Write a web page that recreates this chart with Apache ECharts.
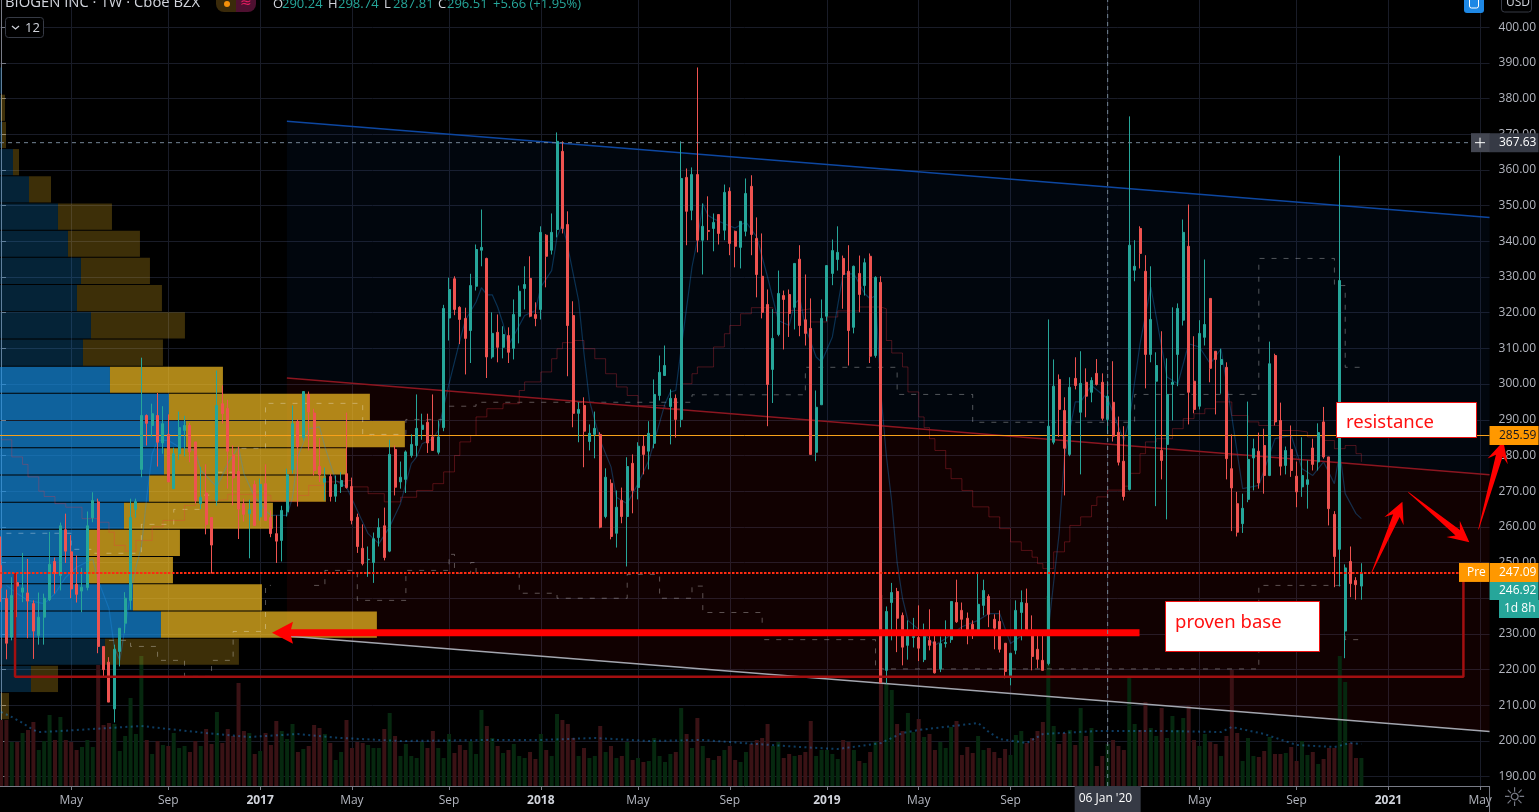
<!DOCTYPE html>
<html>
<head>
<meta charset="utf-8">
<title>BIOGEN INC 1W</title>
<style>
  html, body { margin: 0; padding: 0; background: #000; overflow: hidden; }
  #main { width: 1539px; height: 812px; }
</style>
<script src="https://cdn.jsdelivr.net/npm/echarts@6/dist/echarts.min.js"></script>
</head>
<body>
<div id="main"></div>
<script>
// weekly bars, week 0 is the week of 1 Feb 2016, week 205 is 6 Jan 2020
const opens = [
  249.2,239.9,229.1,244.4,241.7,241.5,238.5,229.6,234.7,239.6,
  250.3,246.4,259.2,253,243.9,242,243,262.5,267,226.5,
  222.1,209,225.1,233,239.4,264.9,276.1,291.2,288.4,291.2,
  283.5,285.9,270.7,280.5,287,288.4,283.8,266.5,269.5,262.6,
  267.4,294.5,293.2,280.2,275.5,266.5,263.7,271.9,262.8,272.1,
  262.6,258.1,256.2,264.2,276,289.5,285,297.1,291.9,276.9,
  272.5,274.1,268.6,271.3,274.9,271.3,262.7,254,250.8,250,
  257,260.3,253.2,281.7,272.6,273.3,280,282.8,287.3,289.3,
  285.2,280.9,287.8,318.5,329.5,321.5,318.4,315,327.4,337.5,
  335.2,307.6,314.5,310.3,313.6,310,319,326.8,329.6,319.5,
  320.9,341.7,337.5,343.3,365.2,344.7,319.2,291.8,294,283.9,
  285.9,285.9,262.9,272.2,258.2,267.4,262.9,277.8,271,282.6,
  281.2,283.4,296.8,302.4,293.7,296,290.1,357.9,348.7,358.7,
  340.3,343,343.6,347.5,343.1,354,342.8,338.3,342.8,355.4,
  340.8,330.2,322.3,304.1,313.9,324.8,325.1,321.5,335,318,
  315.6,280.9,294.2,319,331,334.9,335.2,331.6,315.9,331,
  327.6,335.8,308,328.5,219.8,238.8,241.9,235.2,226.8,229,
  229,222.8,228.2,227.8,220.2,227.3,228.4,238.8,236.6,234.4,
  232.7,231,238,240.5,234.1,233.5,227.4,218.1,225.4,236,
  238.6,231,225.7,222.6,221.7,283.7,301.3,292.6,280.3,301.6,
  292.1,300.5,297.7,303,300.5,290.1,294.9,286.5,278.4,270.5,
  331.9,343.6,331.6,308.3,300.8,281.4,283.1,299.9,308.3,317.9,
  338.6,300.8,293.8,313.1,324,309.2,305.5,304.7,276.3,266.5,
  260.9,267.7,279.3,281.2,282.8,274.4,308,289.8,277.2,281.7,
  274.2,271.2,271.9,282.1,278.2,289.4,279.6,263.5,253.7,230.8,
  250.3,245,243.4
]
const closes = [
  242.9,227.4,240.8,243.4,242.9,239.2,230.8,234.7,240,249.5,
  246.9,260.3,253.2,242.6,241.1,243.1,260.3,267.4,226.5,220,
  210.9,225.7,231.6,240,262.6,267.1,291.2,289,291.7,283.7,
  288.9,272.6,280.5,287.8,288.4,281,267.4,268.3,260.7,254.9,
  294,291.7,281.2,273.7,265,263.5,264.8,260.4,271.9,261.8,
  258.1,256,264.6,274.6,288.9,282.4,297.9,292.2,275.8,274.6,
  273.6,268.5,271.9,273,271,261.8,254.5,249.7,250.9,256.7,
  259.8,251.4,280.3,271.1,273.9,281,283.1,287.6,288.5,283.5,
  281.4,285.2,321.2,326.5,320.9,318.1,312.8,327.6,337.7,338.3,
  307.6,314.2,310.3,313.9,308.9,319.5,326,327.9,319,318.4,
  342.5,335.8,342.5,368,343.6,316.4,291.8,292.9,286.8,286.2,
  287.6,259.9,273.9,257.3,265.5,262.9,276.9,270.2,282.6,280.3,
  286.2,297.1,303.3,305.2,296,290.1,357.6,348.4,358.7,340.3,
  344.2,342.8,345.3,342.2,353.7,339.4,338.6,345.6,353.4,341.9,
  330.7,320.1,299.9,312.8,325.4,323.7,319.8,333.8,316.4,314.2,
  280.3,293.5,318.4,333.2,337.4,336.9,330.7,315,333,325.1,
  334,307.8,329.9,216.3,236.3,241.6,234.4,226.3,230,229.3,
  226,229.3,226.8,219.1,227.3,227.6,239.1,233.4,234.1,230.3,
  231,238.3,242.2,235.5,231.6,225.7,219.5,224.6,236.6,238.8,
  229.9,223.7,222.9,219.8,288.2,299.4,292.9,282,299.1,299.6,
  300.2,296.6,301,299.9,290.4,296.6,285.4,278.1,268.5,338.9,
  333,336.6,308.3,318.1,305.2,278.6,297.1,300.5,321.2,342.5,
  297.7,292.9,314.2,316.7,304.4,306.9,306.9,279.1,270.9,258.5,
  265.2,278.9,281.9,272.3,274.4,305.7,289.4,277,281.4,275.8,
  269.8,274.4,273.2,277.5,286.4,279.6,265.1,251.7,329,248.5,
  244.1,243.8,246.9
]
const highs = [
  257.3,242.4,245.9,247.3,252.7,251,239.4,241.6,241.3,258.6,
  251.4,261.2,263.7,257.7,252,248.5,264.3,269.7,267.9,226.5,
  223.5,227,231.6,241.7,267.9,267.9,307.4,291.5,294.5,297.5,
  293.8,291.5,282.2,292.3,291.1,289.1,283.8,276.8,277.5,262.6,
  303.8,299.6,295.6,282.8,282.5,267.9,267.6,273,273.5,277.5,
  264.6,263.2,265.9,276.3,294,290.1,297.9,297.9,293.1,284.9,
  276.6,274.9,274.4,275.3,292,273.8,263.7,260.7,254.5,258.4,
  262.4,265.4,284.4,282.8,278.3,281.4,285.9,297.1,291.7,291.7,
  297.1,289.8,322.2,329.8,330.2,321.8,321.4,330.9,339.1,348.9,
  335.4,320.1,319.5,316.2,315.9,323.7,327.6,333,335.8,322.9,
  344.2,342,347.8,370.5,368,348.4,323.2,294.9,296.3,288.7,
  292.3,286.5,276.4,273.3,270.2,271,279.5,280.3,283.7,285.6,
  289.6,301.3,308,310.8,298.5,297.1,368,360.4,360.7,388.7,
  350.6,352.6,347.8,347.5,355.9,355.1,343,345.6,357.6,358.5,
  346.7,342.2,326.5,321,331.8,326.2,326.5,333.8,338.9,330.7,
  324,298.2,323.7,333.2,340.5,344.2,336,338.9,333.2,336,
  335.2,336.6,330.2,330.2,237.7,244.3,242.9,236,233.8,234.5,
  238,232.9,236.9,229.9,229.3,233.8,239.1,245.2,238.8,236,
  233.8,246.9,245.2,241.1,235.5,236.6,227.4,224.6,239.4,242.2,
  242.7,235.2,229.9,230,318.1,306.9,302.7,296.3,301.9,307.5,
  309.2,304.4,301.9,307,303,300.8,306.4,290.9,288.2,375,
  340.3,344.2,336.1,333,308.9,314.8,307.2,321.5,322.6,346.1,
  350.3,313.4,317.9,334.9,324,309.2,309.9,306.1,285.9,269.8,
  269.3,295.1,284.7,286.4,287.5,311.9,308.5,294.8,282.5,288.4,
  278.3,285.1,278.6,284.7,289,293.6,279.6,264.4,364,249.5,
  254.5,245.9,249.8
]
const lows = [
  239,222.9,228.2,234.7,238.9,228.8,223,227,227,239.2,
  241.3,242.2,249.9,240,238.8,236.1,242.2,261.3,224.6,217.7,
  210.9,205.2,220.9,230.2,236.8,262.6,273.9,282.8,285.3,276.9,
  280.5,272.6,270.7,278.8,279.7,278.1,266.5,265,257.9,246.9,
  266,288.9,270.7,266,256.6,261.5,251.2,260.4,261.8,261.8,
  257.1,249.9,250.3,262.9,274.9,265.7,284.2,281.4,274.4,272.6,
  267.4,267.1,267,269.5,270.7,260.7,252.7,249.2,246,244.3,
  254.5,250.6,252.9,268.8,270.7,269.5,279.4,279.7,284.4,280.7,
  281.4,280.3,286.8,312.2,319.3,311.2,302.7,305.9,326.2,333,
  301.7,307.1,306.1,307.2,305.9,306.9,311.4,320.9,318.7,316.2,
  318.1,327.1,336.3,341.1,342.2,302.2,287.9,283.7,276.7,281.4,
  279.2,259.6,262.4,256.5,254.2,261,248.9,263.8,267.7,274.7,
  276.1,282,295.4,302.4,283.1,285,287.9,338.9,345.9,336.9,
  330.7,340.3,337.2,339.1,340.3,336.1,332.7,332.4,341.4,336.1,
  324.3,318.4,288.2,294.7,313.4,309.7,313.2,315.3,313.4,310.8,
  280.3,278.4,294.2,317.6,327.7,331.8,321.1,305.2,314.2,320.1,
  324.8,305.9,307.4,216.3,216.1,228.2,224.9,221.2,222.8,226.2,
  222.4,222.1,225.4,218.9,219.3,226.2,227.5,233.1,230.5,227.1,
  228.6,231,235.2,231.9,225.7,224.8,217.6,215.6,224.3,228.2,
  229.9,219.8,220.4,219.8,221.2,283.1,285.2,268.8,279.8,298.5,
  274.7,290.7,294.9,299.6,289.8,286,283.9,277.2,267.4,270.2,
  328.8,332.4,298.8,306.1,265.8,273.3,262.1,289.8,299.4,316.4,
  288.7,291.8,292.9,310.8,300.5,291.5,297.3,273.3,258.8,257.3,
  258.3,266.9,270.2,270.7,269.3,274.2,288.4,274.4,274.7,274,
  265.5,268.4,265.1,275.8,275.8,279.1,260.4,243.1,243.3,223.2,
  240.3,239.6,239.6
]
const volumes = [
  66,66,44,44,53,56,64,36,45,71,46,69,46,44,36,39,46,39,121,61,
  63,62,35,50,88,52,130,46,32,45,41,40,53,38,40,34,45,40,57,42,
  74,43,57,50,103,55,53,32,35,53,41,65,55,47,62,34,37,40,61,58,
  52,43,26,34,66,38,44,43,41,38,38,57,73,50,30,42,30,28,44,38,
  55,38,28,52,33,41,36,45,32,76,60,48,40,33,36,42,30,28,34,27,
  52,36,30,72,66,62,48,30,38,28,30,60,34,40,28,30,44,26,28,24,
  25,48,30,24,32,34,78,52,38,68,40,28,26,30,36,40,26,24,34,42,
  46,48,62,40,44,28,32,30,31,34,65,30,36,36,32,27,46,44,36,25,
  23,34,44,191,103,96,62,55,73,54,67,49,52,36,44,38,59,65,31,39,
  33,50,36,38,34,28,37,31,51,55,43,48,55,64,190,60,42,53,56,41,
  78,50,58,20,30,42,46,40,36,108,62,56,84,58,50,78,48,70,56,68,
  80,46,40,52,44,42,30,50,116,53,25,48,30,29,35,49,32,32,33,39,
  25,45,31,34,22,27,38,38,130,104,43,28,28
]
const volumeAxisMax = 786

// [week, price] knots
const fastAverage = [
  [1,243.6],[3,241.3],[5,239.4],[8,238.5],[10,241.3],[12,245.9],[14,248.7],[17,251],[18,245],[20,237.1],
  [21,226.3],[22,222.6],[24,241.3],[25,248.7],[26,254.3],[27,268.3],[28,280.5],[29,284.2],[31,284.2],[33,282.4],
  [36,281.4],[37,275.8],[40,271.2],[42,277.7],[44,282.4],[45,274.9],[47,268.3],[49,264.6],[50,263.2],[53,263.2],
  [54,268.3],[55,279.6],[57,287.5],[59,288],[60,282.4],[62,273],[64,271.2],[66,264.6],[68,258.1],[70,255.3],
  [72,260],[74,266.5],[76,277.7],[77,279.6],[78,283.3],[80,284.7],[81,287],[82,293.6],[83,300.1],[85,312.2],
  [86,317.8],[88,323],[89,327],[90,325],[91,325],[92,321.6],[93,316.9],[94,310.8],[95,313.6],[97,319.2],
  [99,320.6],[100,327.2],[102,331.8],[103,341.2],[104,344.9],[105,338.4],[107,323.4],[108,308.5],[109,295.4],[111,284.2],
  [113,276.8],[114,268.3],[116,266.5],[118,272.1],[120,278.6],[123,294.5],[124,297.8],[125,298.2],[126,310],[128,332.8],
  [129,340.3],[130,350.5],[131,347.2],[132,346.3],[134,344.9],[136,343.7],[138,345.4],[140,341.2],[142,330],[144,317.8],
  [146,316.4],[147,322.5],[148,323.9],[149,316],[151,307.6],[152,306.2],[154,313.2],[156,330.9],[158,330.9],[160,325.3],
  [161,323.9],[162,324.8],[163,297.3],[164,280],[165,267],[166,250],[167,240],[168,233.8],[171,230],[173,226.8],
  [175,228.7],[178,232],[181,233.8],[183,235.7],[185,235.7],[187,227.3],[190,230.5],[194,231],[196,258],[197,279.6],
  [199,295],[200,295],[202,299.6],[205,295.9],[208,284.2],[209,289.8],[211,311.3],[213,327.2],[216,302],[218,300.1],
  [220,311.3],[222,310.4],[224,305.7],[226,309.9],[228,290.8],[230,270.7],[233,271.6],[236,284.7],[239,285.6],[241,276.3],
  [243,274.4],[245,278.2],[247,272.1],[248,281],[249,269.3],[251,263.7],[252,262.3]
]
const slowAverage = [
  [0,284.4],[2,279.6],[4,277.5],[5,274],[7,270],[8,268.5],[10,266.5],[12,265.5],[15,262.3],[18,261.3],
  [20,258.5],[21,254.8],[23,253.2],[25,256.2],[28,260],[30,261.8],[34,266],[36,267.4],[39,267.6],[42,269.1],
  [46,268.8],[50,267.2],[53,267],[55,268.8],[57,271.6],[60,272.6],[62,273],[65,271.2],[68,269.3],[71,267],
  [74,268.3],[77,270.2],[80,272.1],[82,275.4],[84,280],[85,283.8],[87,285.6],[88,290.8],[90,293.1],[93,294.5],
  [96,298.2],[97,300.6],[100,303.4],[102,307.1],[103,309.9],[104,311.6],[106,312.2],[108,309.9],[110,307.1],[112,302.9],
  [114,299.2],[116,296.8],[118,294],[123,293.1],[125,293.1],[126,300.1],[128,302.9],[129,304.8],[132,310.4],[134,314.1],
  [135,316.4],[137,319.7],[139,321.4],[141,321.4],[143,320],[146,320.6],[148,321.1],[150,317.4],[153,318.8],[155,320.5],
  [159,321.6],[163,321.1],[164,312.2],[165,308.7],[167,304.8],[168,297.8],[170,290.8],[171,287.8],[172,284.7],[173,281.4],
  [175,276.3],[176,273.5],[178,270.2],[180,265.6],[183,262.8],[185,259.5],[187,255.8],[189,253.4],[191,251.5],[192,249.7],
  [193,248.3],[195,253],[197,255.8],[198,260.4],[200,262.8],[202,266],[203,268.4],[205,270.3],[208,271.4],[209,275],
  [211,280.5],[212,283.8],[214,284.7],[217,287.5],[219,290.3],[221,291.7],[223,293.1],[225,295],[226,295],[228,291.2],
  [231,289.4],[233,288.4],[237,287],[240,286.6],[242,285.2],[245,284.2],[247,281.9],[249,282.8],[251,280.5],[252,278.2]
]
const upperBandSteps = [
  [1,258.2],[13,253.7],[17,252.6],[26,260.7],[32,264.9],[37,268.9],[40,275.3],[44,282],[49,294.6],[67,285.9],
  [75,290.1],[82,293.8],[88,294.9],[128,297],[149,304.7],[166,297.1],[180,289.3],[210,297.1],[233,335.2],[247,327.6],
  [249,304.7],[252,304.7]
]
const lowerBandSteps = [
  [20,228.2],[24,226.5],[29,222.6],[34,218.1],[39,222.6],[43,230.7],[49,243.6],[50,null],[58,243.6],[60,247.8],
  [66,239.4],[75,247.8],[83,252.3],[84,247],[87,250],[88,247],[96,241.4],[103,240],[116,246.7],[122,240],
  [128,243.4],[130,236],[141,228.4],[162,220.2],[233,243.6],[249,228.4],[252,228.4]
]
const volumeAverage = [
  [0,74],[2,69],[4,63],[6,56],[7,54],[11,55],[26,60],[31,57],[38,53],[46,49],[55,52],[63,48],[74,45],[90,46],[100,46],
  [110,48],[120,45],[130,46],[140,42],[148,39],[155,37],[163,43],[167,53],[170,56],[181,63],[183,54],[185,47],[190,43],
  [193,52],[203,55],[215,55],[226,54],[228,59],[234,52],[240,41],[247,39],[250,43],[252,42]
]

// volume by price, rows from the top price down
const profileTopPrice = 388.7
const profileRowPrice = 7.62
const profileUp = [2,1,2,13,29,58,68,81,77,91,83,110,169,186,164,149,124,88,87,133,161,105,31,1]
const profileTotal = [2,5,6,19,51,112,140,150,162,185,163,223,370,405,347,326,273,180,173,262,377,239,58,9]
const profileBrightRows = [11,20]
const profileAxisMax = 1490

const priceTicks = [190,200,210,220,230,240,250,260,270,280,290,300,310,320,330,340,350,360,370,380,390,400]
const priceMin = 187.4
const priceMax = 407.6
const weekMin = -0.185
const weekMax = 275.74
const monthWeeks = [13,31,48,65,83,100,118,135,153,170,187,205,222,240,257,274]
const monthLabels = ['May','Sep','2017','May','Sep','2018','May','Sep','2019','May','Sep','2020','May','Sep','2021','May']

// drawings on the chart
const channelStart = 52.96
const blueTrend = [373.6, 346.7]
const redTrend = [301.7, 274.6]
const greyTrend = [229.4, 202.7]
const resistanceLevel = 285.59
const prePrice = 247.09
const lastPrice = 246.92
const crossPrice = 367.63
const crossWeek = 205
const boxWeeks = [2.6, 270.9]
const boxPrices = [247.09, 218]
const preLineEnd = 270.2
// [from week, from price, to week, to price]
const arrows = [
  [210.9,230.3,50.2,230.3],
  [253.9,247.2,259.6,267],
  [260.7,269.7,272,255.7],
  [273.7,259.3,278.3,284]
]

const upColor = '#26a69a'
const downColor = '#ef5350'
const gridColor = '#191c28'
const axisColor = '#787b86'
const labelColor = '#b2b5be'
const labelFont = '"Open Sans", sans-serif'

function renderZones(params, api) {
  const x0 = api.value(0), x1 = api.value(3)
  const points = [
    api.coord([x0, api.value(1)]), api.coord([x1, api.value(4)]),
    api.coord([x1, api.value(5)]), api.coord([x0, api.value(2)])
  ]
  return { type: 'polygon', shape: { points: points }, style: { fill: api.visual('color') } }
}

function renderProfile(params, api) {
  const rowTop = api.value(0), rowBottom = api.value(1)
  const bright = api.value(4) === 1
  const start = api.coord([0, rowTop])
  const upEnd = api.coord([api.value(2), rowBottom])
  const allEnd = api.coord([api.value(3), rowBottom])
  const height = upEnd[1] - start[1] - 1
  return {
    type: 'group',
    children: [
      { type: 'rect', shape: { x: start[0], y: start[1], width: upEnd[0] - start[0], height: height },
        style: { fill: bright ? 'rgba(22,145,232,0.68)' : 'rgba(22,145,232,0.24)' } },
      { type: 'rect', shape: { x: upEnd[0], y: start[1], width: allEnd[0] - upEnd[0], height: height },
        style: { fill: bright ? 'rgba(255,198,35,0.68)' : 'rgba(255,198,35,0.24)' } }
    ]
  }
}

function renderArrow(params, api) {
  const tail = api.coord([api.value(0), api.value(1)])
  const tip = api.coord([api.value(2), api.value(3)])
  const dx = tip[0] - tail[0], dy = tip[1] - tail[1]
  const len = Math.sqrt(dx * dx + dy * dy)
  const ux = dx / len, uy = dy / len, nx = -uy, ny = ux
  // first arrow is the long one with a straight shaft, the others taper to the tail
  const long = params.dataIndex === 0
  const tailHalf = long ? 3.5 : 0.3
  const neckHalf = 3.5
  const headLen = 21, notch = long ? 19 : 15, wing = long ? 11 : 10.5
  const at = (along, side) => [tail[0] + ux * along + nx * side, tail[1] + uy * along + ny * side]
  return {
    type: 'polygon',
    shape: {
      points: [
        at(0, tailHalf), at(len - notch, neckHalf), at(len - headLen, wing), tip,
        at(len - headLen, -wing), at(len - notch, -neckHalf), at(0, -tailHalf)
      ]
    },
    style: { fill: '#ff0000' }
  }
}

function lineSeries(name, data, color, width, extra) {
  return Object.assign({
    name: name, type: 'line', data: data, showSymbol: false, silent: true, z: 6,
    xAxisIndex: 0, yAxisIndex: 0,
    lineStyle: { color: color, width: width }
  }, extra || {})
}

const chart = echarts.init(document.getElementById('main'))

const candleData = opens.map((o, i) => [i, o, closes[i], lows[i], highs[i]])
const volumeData = volumes.map((v, i) => ({
  value: [i, v],
  itemStyle: { color: closes[i] >= opens[i] ? '#06280f' : '#3a1215' }
}))
const profileData = profileUp.map((up, i) => [
  profileTopPrice - profileRowPrice * i,
  profileTopPrice - profileRowPrice * (i + 1),
  up, profileTotal[i],
  i >= profileBrightRows[0] && i <= profileBrightRows[1] ? 1 : 0
])

chart.setOption({
  animation: false,
  backgroundColor: '#000000',
  grid: { left: 0, right: 49, top: 0, bottom: 26, containLabel: false },
  xAxis: [
    {
      type: 'value', min: weekMin, max: weekMax, scale: true,
      axisLine: { show: true, lineStyle: { color: axisColor } },
      axisTick: { show: true, length: 4, customValues: monthWeeks, lineStyle: { color: axisColor } },
      axisLabel: {
        customValues: monthWeeks, margin: 9, showMinLabel: true, showMaxLabel: true,
        hideOverlap: false, fontFamily: labelFont, fontSize: 12, color: labelColor,
        formatter: v => {
          const text = monthLabels[monthWeeks.indexOf(v)]
          return /^\d/.test(text) ? '{year|' + text + '}' : text
        },
        rich: { year: { fontFamily: labelFont, fontSize: 12, fontWeight: 'bold', color: '#d1d4dc' } }
      },
      splitLine: { show: true, lineStyle: { color: gridColor } }
    },
    { type: 'value', min: 0, max: profileAxisMax, show: false, splitLine: { show: false } }
  ],
  yAxis: [
    {
      type: 'value', position: 'right', min: priceMin, max: priceMax, scale: true,
      axisLine: { show: true, lineStyle: { color: axisColor } },
      axisTick: { show: true, length: 5, customValues: priceTicks, lineStyle: { color: axisColor } },
      axisLabel: {
        customValues: priceTicks, margin: 9, hideOverlap: false,
        fontFamily: labelFont, fontSize: 12, color: labelColor,
        formatter: v => v.toFixed(2)
      },
      splitLine: { show: true, lineStyle: { color: gridColor } }
    },
    { type: 'value', min: 0, max: volumeAxisMax, show: false, splitLine: { show: false } }
  ],
  series: [
    {
      name: 'channel', type: 'custom', renderItem: renderZones, silent: true, z: 1,
      encode: { x: [0, 3], y: [1, 2, 4, 5] },
      data: [
        { value: [channelStart, blueTrend[0], redTrend[0], weekMax, blueTrend[1], redTrend[1]], itemStyle: { color: 'rgba(13,71,161,0.08)' } },
        { value: [channelStart, redTrend[0], greyTrend[0], weekMax, redTrend[1], greyTrend[1]], itemStyle: { color: 'rgba(242,20,20,0.07)' } }
      ]
    },
    {
      name: 'Volume', type: 'bar', xAxisIndex: 0, yAxisIndex: 1, barWidth: 4, silent: true, z: 2,
      data: volumeData
    },
    lineSeries('Volume MA', volumeAverage, 'rgba(33,150,243,0.4)', 2,
      { yAxisIndex: 1, z: 3, lineStyle: { color: 'rgba(33,150,243,0.4)', width: 2, type: [2, 3.4] } }),
    {
      name: 'Volume profile', type: 'custom', renderItem: renderProfile, xAxisIndex: 1, yAxisIndex: 0, silent: true, z: 3,
      encode: { x: [2, 3], y: [0, 1] },
      data: profileData
    },
    lineSeries('Upper band', upperBandSteps, 'rgba(255,255,255,0.32)', 1,
      { step: 'end', z: 4, connectNulls: false, lineStyle: { color: 'rgba(255,255,255,0.32)', width: 1, type: [5, 7] } }),
    lineSeries('Lower band', lowerBandSteps, 'rgba(255,255,255,0.32)', 1,
      { step: 'end', z: 4, connectNulls: false, lineStyle: { color: 'rgba(255,255,255,0.32)', width: 1, type: [5, 7] } }),
    lineSeries('Slow average', slowAverage, 'rgba(242,54,69,0.3)', 1, { step: 'end', z: 4 }),
    lineSeries('Fast average', fastAverage, 'rgba(33,150,243,0.3)', 1.2, { z: 4 }),
    lineSeries('Blue trend', [[channelStart, blueTrend[0]], [weekMax, blueTrend[1]]], '#0d47a1', 1.5, { z: 5 }),
    lineSeries('Red trend', [[channelStart, redTrend[0]], [weekMax, redTrend[1]]], '#8c1620', 1.5, { z: 5 }),
    lineSeries('Grey trend', [[channelStart, greyTrend[0]], [weekMax, greyTrend[1]]], '#a3a6af', 1.5, { z: 5 }),
    lineSeries('Resistance', [[weekMin, resistanceLevel], [weekMax, resistanceLevel]], '#f7a11a', 1, { z: 5 }),
    {
      name: 'BIIB', type: 'candlestick', data: candleData, barWidth: 2.5, silent: true, z: 7,
      itemStyle: { color: upColor, color0: downColor, borderColor: upColor, borderColor0: downColor, borderWidth: 1 }
    },
    lineSeries('Base box', [
      [boxWeeks[0], boxPrices[0]], [boxWeeks[0], boxPrices[1]], [boxWeeks[1], boxPrices[1]], [boxWeeks[1], boxPrices[0]]
    ], '#a30f10', 2.5, { z: 8 }),
    lineSeries('Pre line', [[weekMin, prePrice], [preLineEnd, prePrice]], '#ff2a10', 2,
      { z: 8, lineStyle: { color: '#ff2a10', width: 2, type: [2.5, 1.5] } }),
    {
      name: 'Arrows', type: 'custom', renderItem: renderArrow, silent: true, z: 9,
      encode: { x: [0, 2], y: [1, 3] },
      data: arrows
    },
    lineSeries('Cross price', [[weekMin, crossPrice], [weekMax, crossPrice]], '#758696', 1,
      { z: 10, lineStyle: { color: '#758696', width: 1, type: [4, 4] } }),
    lineSeries('Cross week', [[crossWeek, priceMin], [crossWeek, priceMax]], '#758696', 1,
      { z: 10, lineStyle: { color: '#758696', width: 1, type: [4, 4] } })
  ]
})

// price tags, text boxes and the header sit on top of the axes
const yOf = p => chart.convertToPixel({ yAxisIndex: 0 }, p)
const xOf = w => chart.convertToPixel({ xAxisIndex: 0 }, w)
const axisX = xOf(weekMax)

function tag(x, y, w, h, fill, text, textColor, textX) {
  return [
    { type: 'rect', shape: { x: x, y: y, width: w, height: h }, style: { fill: fill }, z: 100 },
    { type: 'text', x: textX, y: y + h / 2, z: 101,
      style: { text: text, fill: textColor, font: '12px ' + labelFont, verticalAlign: 'middle' } }
  ]
}
function label(x, y, text, color, font) {
  return { type: 'text', x: x, y: y, z: 101,
    style: { text: text, fill: color, font: font || ('13px ' + labelFont), verticalAlign: 'middle' } }
}
function noteBox(x, y, w, h, text, textX, textY) {
  return [
    { type: 'rect', shape: { x: x, y: y, width: w, height: h }, z: 90,
      style: { fill: '#ffffff', stroke: '#f01010', lineWidth: 1 } },
    { type: 'text', x: textX, y: textY, z: 91,
      style: { text: text, fill: '#ff1010', font: '18.5px "Noto Sans", sans-serif', verticalAlign: 'middle' } }
  ]
}

const crossY = yOf(crossPrice), resY = yOf(resistanceLevel), preY = yOf(prePrice)
const crossX = xOf(crossWeek)
const headerColor = '#d1d4dc', tealText = '#26a69a'

chart.setOption({
  graphic: [].concat(
    // header
    [
      label(5, 3, 'BIOGEN INC \u00b7 1W \u00b7 Cboe BZX', headerColor, '14.8px ' + labelFont),
      { type: 'rect', shape: { x: 216, y: -8, width: 20, height: 20, r: [8, 0, 0, 8] }, style: { fill: '#3a2a0a' }, z: 100 },
      { type: 'rect', shape: { x: 236, y: -8, width: 20, height: 20, r: [0, 8, 8, 0] }, style: { fill: '#4e1030' }, z: 100 },
      { type: 'circle', shape: { cx: 227, cy: 4, r: 3 }, style: { fill: '#f5900a' }, z: 101 },
      label(240, 3, '\u2248', '#e91e63', '14px "DejaVu Sans"'),
      label(273, 4, 'O', headerColor), label(282, 4, '290.24', tealText),
      label(328, 4, 'H', headerColor), label(338, 4, '298.74', tealText),
      label(384, 4, 'L', headerColor), label(393, 4, '287.81', tealText),
      label(438, 4, 'C', headerColor), label(447, 4, '296.51', tealText),
      label(493, 4, '+5.66 (+1.95%)', tealText),
      { type: 'rect', shape: { x: 5.5, y: 17.5, width: 38, height: 20, r: 3 }, style: { fill: '#000', stroke: '#363a45' }, z: 100 },
      { type: 'polyline', shape: { points: [[12, 26], [15.5, 29], [19, 26]] }, style: { fill: null, stroke: '#d1d4dc', lineWidth: 1.2 }, z: 101 },
      label(25, 28, '12', headerColor, '13px ' + labelFont),
      { type: 'rect', shape: { x: 1464, y: -8, width: 20, height: 21, r: 3 }, style: { fill: '#1e88e5' }, z: 100 },
      { type: 'rect', shape: { x: 1469.5, y: -4, width: 9, height: 12, r: 2 }, style: { fill: null, stroke: '#ffffff' }, z: 101 },
      { type: 'rect', shape: { x: 1501.5, y: -8, width: 30, height: 20, r: 3 }, style: { fill: '#000', stroke: '#363a45' }, z: 100 },
      label(1506, 3, 'USD', headerColor, '12px ' + labelFont)
    ],
    // resistance and base notes
    noteBox(1336.5, 402.5, 140, 35, 'resistance', 1346, 423),
    noteBox(1165.5, 601.5, 154, 50, 'proven base', 1175, 623),
    // crosshair tags
    tag(1471, crossY - 9.5, 19, 19, '#434651', '', '#fff', 0),
    [
      { type: 'polyline', shape: { points: [[1475, crossY], [1485, crossY]] }, style: { stroke: '#fff', lineWidth: 1 }, z: 102 },
      { type: 'polyline', shape: { points: [[1480, crossY - 5], [1480, crossY + 5]] }, style: { stroke: '#fff', lineWidth: 1 }, z: 102 }
    ],
    tag(axisX, crossY - 9.5, 49, 19, '#363a45', crossPrice.toFixed(2), '#ffffff', 1499),
    tag(crossX - 33, 786, 66, 26, '#363a45', "06 Jan '20", '#ffffff', crossX - 29),
    // price tags
    tag(axisX, resY - 9.5, 49, 19, '#ff9800', resistanceLevel.toFixed(2), '#131722', 1499),
    tag(1459, preY - 10, 30, 19, '#ff9800', 'Pre', '#ffffff', 1467),
    tag(axisX, preY - 10, 49, 19, '#ff9800', prePrice.toFixed(2), '#ffffff', 1499),
    tag(axisX, preY + 9, 49, 18, '#26a69a', lastPrice.toFixed(2), '#ffffff', 1499),
    tag(1499, preY + 27, 40, 18, '#26a69a', '1d 8h', '#ffffff', 1504),
    // bottom right corner
    [
      { type: 'polyline', shape: { points: [[axisX, 786], [axisX, 812]] }, style: { stroke: axisColor, lineWidth: 1 }, z: 100 },
      label(1503, 799, '\u263c', '#787b86', '26px "DejaVu Sans"')
    ]
  )
})
</script>
</body>
</html>
